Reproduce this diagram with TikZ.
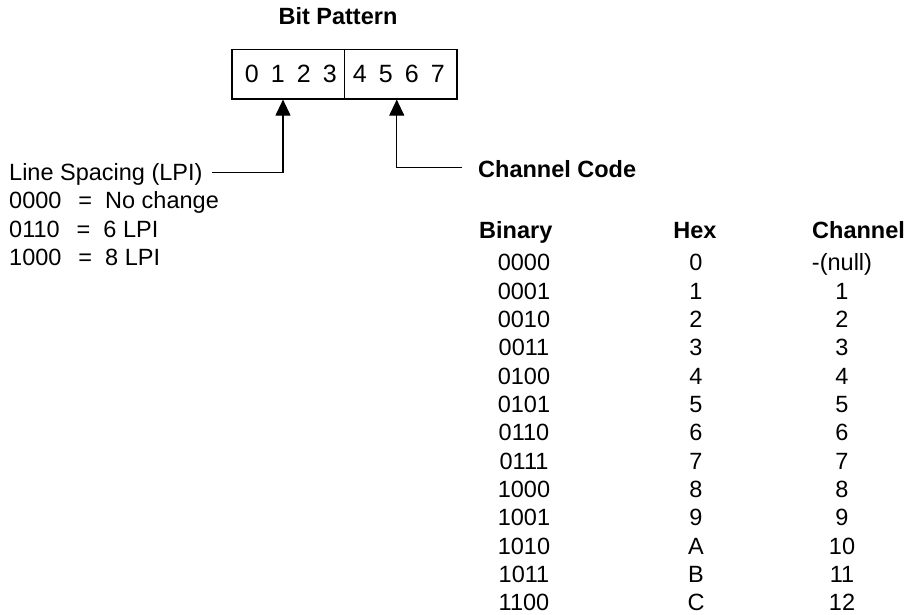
\documentclass[tikz,border=0pt]{standalone}
\usepackage{fontspec}
\setmainfont{Liberation Sans}
\usetikzlibrary{arrows.meta}
\begin{document}
\begin{tikzpicture}[x=1pt,y=-1pt,
  txt/.style={font=\fontsize{23.5pt}{28pt}\selectfont, inner sep=0pt},
  hdr/.style={font=\fontsize{23.5pt}{28pt}\selectfont\bfseries, inner sep=0pt},
  half/.style={draw, line width=1.2pt, minimum height=49.5pt, minimum width=112.5pt,
    inner sep=0pt, font=\fontsize{25pt}{30pt}\selectfont},
  conn/.style={line width=1.1pt, -{Triangle[length=16pt,width=15pt]}}]
\useasboundingbox (0,0) rectangle (906,615);

\node[hdr, anchor=base] (title) at (338,25) {Bit Pattern};
\node[half] (lohalf) at (288.25,74.25) {\hspace*{5pt}0\hspace{12.1pt}1\hspace{12.1pt}2\hspace{12.1pt}3};
\node[half] (hihalf) at (400.75,74.25) {4\hspace{12.1pt}5\hspace{12.1pt}6\hspace{12.1pt}7\hspace*{4pt}};

\node[txt, anchor=base west] (lpi) at (9,180.5) {Line Spacing (LPI)};
\node[txt, anchor=base west] (l0) at (9,209) {0000\hspace{17pt}=\hspace{13pt}No change};
\node[txt, anchor=base west] (l6) at (9,237.3) {0110\hspace{17pt}=\hspace{13pt}6 LPI};
\node[txt, anchor=base west] (l8) at (9,265.6) {1000\hspace{17pt}=\hspace{13pt}8 LPI};

\node[hdr, anchor=base west] (chcode) at (478,178) {Channel Code};

\coordinate (lpiend) at (212,172.7);
\coordinate (chend) at (461.7,167.7);
\draw[conn] (lpiend) -| ([xshift=-5.25pt]lohalf.south);
\draw[conn] (chend) -| ([xshift=-4pt]hihalf.south);

\node[hdr, anchor=base west] (hbin) at (479,238.5) {Binary};
\node[hdr, anchor=base] (hhex) at (695,238.5) {Hex};
\node[hdr, anchor=base west] (hch) at (812,238.5) {Channel};

\foreach \b/\h/\c [count=\k from 0] in {0000/0/-(null),0001/1/1,0010/2/2,0011/3/3,
  0100/4/4,0101/5/5,0110/6/6,0111/7/7,1000/8/8,1001/9/9,1010/A/10,1011/B/11,1100/C/12}{
  \node[txt, anchor=base] (b\k) at (524,270.8+28.32*\k) {\b};
  \node[txt, anchor=base] (h\k) at (696,270.8+28.32*\k) {\h};
  \node[txt, anchor=base] (c\k) at (842,270.8+28.32*\k) {\c};
}
\end{tikzpicture}
\end{document}
